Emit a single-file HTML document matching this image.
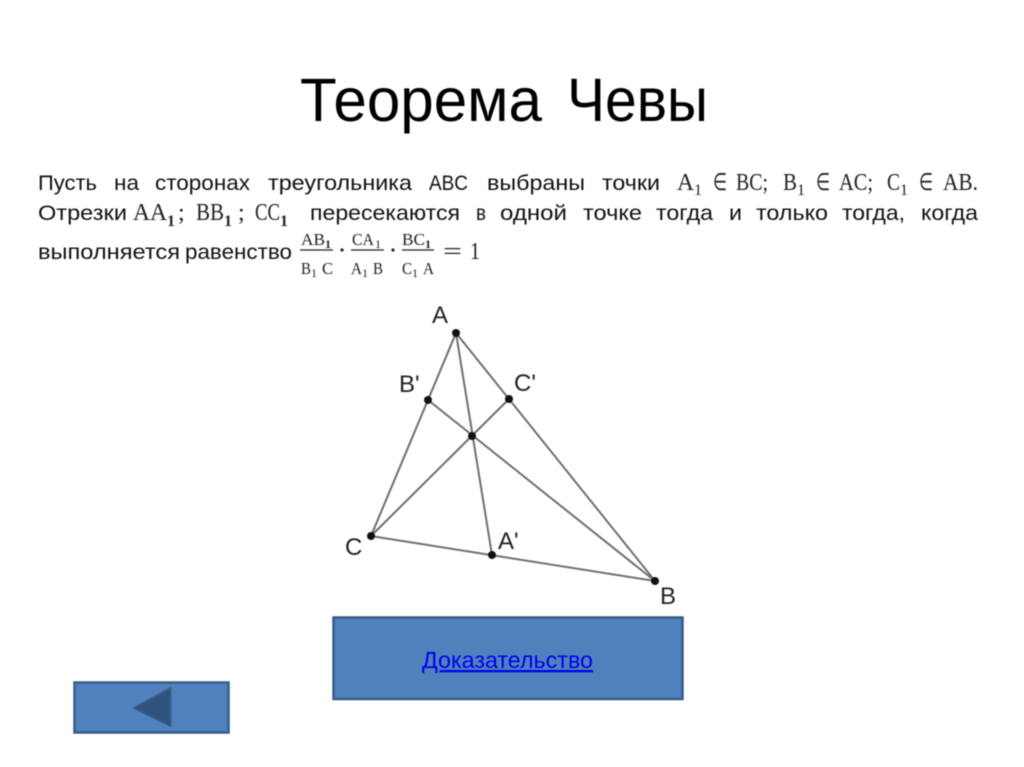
<!DOCTYPE html>
<html lang="ru">
<head>
<meta charset="utf-8">
<title>Теорема Чевы</title>
<style>
html,body{margin:0;padding:0;background:#fff;width:1024px;height:767px;overflow:hidden}
svg{display:block;filter:blur(0.5px)}
.t{font-family:"Liberation Sans",sans-serif;fill:#000}
.b{font-family:"Liberation Sans",sans-serif;font-size:21px;fill:#111}
.m{font-family:"Liberation Serif",serif;font-size:24px;fill:#222}
.s{font-family:"Liberation Serif",serif;font-size:16px;fill:#222}
.f{font-family:"Liberation Serif",serif;font-size:17px;fill:#222}
.l{font-family:"Liberation Sans",sans-serif;font-size:24px;fill:#222}
</style>
</head>
<body>
<svg width="1024" height="767" viewBox="0 0 1024 767" xmlns="http://www.w3.org/2000/svg">
<rect width="1024" height="767" fill="#fff"/>

<g class="t" font-size="61">
<text x="300" y="121" textLength="242" lengthAdjust="spacingAndGlyphs">Теорема</text>
<text x="567" y="121" textLength="141" lengthAdjust="spacingAndGlyphs">Чевы</text>
</g>

<g class="b">
<text x="38" y="190" textLength="59" lengthAdjust="spacingAndGlyphs">Пусть</text>
<text x="114" y="190" textLength="25" lengthAdjust="spacingAndGlyphs">на</text>
<text x="155" y="190" textLength="95" lengthAdjust="spacingAndGlyphs">сторонах</text>
<text x="268" y="190" textLength="144" lengthAdjust="spacingAndGlyphs">треугольника</text>
<text x="429" y="190" textLength="39" lengthAdjust="spacingAndGlyphs">ABC</text>
<text x="487" y="190" textLength="98" lengthAdjust="spacingAndGlyphs">выбраны</text>
<text x="602" y="190" textLength="58" lengthAdjust="spacingAndGlyphs">точки</text>

<text x="38" y="220" textLength="89" lengthAdjust="spacingAndGlyphs">Отрезки</text>
<text x="310" y="220" textLength="150" lengthAdjust="spacingAndGlyphs">пересекаются</text>
<text x="476" y="220" textLength="10" lengthAdjust="spacingAndGlyphs">в</text>
<text x="500" y="220" textLength="67" lengthAdjust="spacingAndGlyphs">одной</text>
<text x="583" y="220" textLength="59" lengthAdjust="spacingAndGlyphs">точке</text>
<text x="656" y="220" textLength="57" lengthAdjust="spacingAndGlyphs">тогда</text>
<text x="729" y="220" textLength="13" lengthAdjust="spacingAndGlyphs">и</text>
<text x="756" y="220" textLength="72" lengthAdjust="spacingAndGlyphs">только</text>
<text x="842" y="220" textLength="63" lengthAdjust="spacingAndGlyphs">тогда,</text>
<text x="921" y="220" textLength="57" lengthAdjust="spacingAndGlyphs">когда</text>

<text x="38" y="259" textLength="142" lengthAdjust="spacingAndGlyphs">выполняется</text>
<text x="185" y="259" textLength="107" lengthAdjust="spacingAndGlyphs">равенство</text>
</g>

<g class="m">
<text x="677" y="190" textLength="17" lengthAdjust="spacingAndGlyphs">A</text>
<text x="713" y="190" textLength="14" lengthAdjust="spacingAndGlyphs">∈</text>
<text x="736" y="190" textLength="32" lengthAdjust="spacingAndGlyphs">BC;</text>
<text x="783" y="190" textLength="14" lengthAdjust="spacingAndGlyphs">B</text>
<text x="816" y="190" textLength="14" lengthAdjust="spacingAndGlyphs">∈</text>
<text x="839" y="190" textLength="34" lengthAdjust="spacingAndGlyphs">AC;</text>
<text x="887" y="190" textLength="13" lengthAdjust="spacingAndGlyphs">C</text>
<text x="919" y="190" textLength="14" lengthAdjust="spacingAndGlyphs">∈</text>
<text x="943" y="190" textLength="35" lengthAdjust="spacingAndGlyphs">AB.</text>
<text x="133" y="220" textLength="34" lengthAdjust="spacingAndGlyphs">AA</text>
<text x="178" y="220">;</text>
<text x="196" y="220" textLength="28" lengthAdjust="spacingAndGlyphs">BB</text>
<text x="238" y="220">;</text>
<text x="255" y="220" textLength="25" lengthAdjust="spacingAndGlyphs">CC</text>
<text x="443" y="259" textLength="19" lengthAdjust="spacingAndGlyphs">=</text>
<text x="470" y="259" textLength="10" lengthAdjust="spacingAndGlyphs">1</text>
</g>
<g class="s">
<text x="694" y="195">1</text>
<text x="797" y="195">1</text>
<text x="900" y="195">1</text>
<text x="167" y="226" font-weight="bold">1</text>
<text x="224" y="226" font-weight="bold">1</text>
<text x="280" y="226" font-weight="bold">1</text>
</g>

<g class="f">
<text x="301" y="245" textLength="24" lengthAdjust="spacingAndGlyphs">AB</text>
<text x="325" y="248" font-size="12" font-weight="bold">1</text>
<text x="301" y="274" textLength="10" lengthAdjust="spacingAndGlyphs">B</text>
<text x="311" y="277" font-size="12">1</text>
<text x="322" y="274" textLength="11" lengthAdjust="spacingAndGlyphs">C</text>
<text x="352" y="245" textLength="22" lengthAdjust="spacingAndGlyphs">CA</text>
<text x="375" y="248" font-size="12">1</text>
<text x="351" y="274" textLength="11" lengthAdjust="spacingAndGlyphs">A</text>
<text x="362" y="277" font-size="12">1</text>
<text x="373" y="274" textLength="10" lengthAdjust="spacingAndGlyphs">B</text>
<text x="402" y="245" textLength="23" lengthAdjust="spacingAndGlyphs">BC</text>
<text x="425" y="248" font-size="12" font-weight="bold">1</text>
<text x="402" y="274" textLength="10" lengthAdjust="spacingAndGlyphs">C</text>
<text x="412" y="277" font-size="12">1</text>
<text x="423" y="274" textLength="11" lengthAdjust="spacingAndGlyphs">A</text>
</g>
<g stroke="#222" stroke-width="1.300">
<line x1="300" y1="250" x2="333" y2="250"/>
<line x1="351" y1="250" x2="384" y2="250"/>
<line x1="402" y1="250" x2="434" y2="250"/>
</g>
<circle cx="342" cy="250" r="1.600" fill="#222"/>
<circle cx="393" cy="250" r="1.600" fill="#222"/>

<g stroke="#6f6f6f" stroke-width="2" fill="none">
<polygon points="456,333 655,581 371,536"/>
<line x1="456" y1="333" x2="492" y2="555"/>
<line x1="655" y1="581" x2="428" y2="400"/>
<line x1="371" y1="536" x2="509" y2="399"/>
</g>
<g fill="#111">
<circle cx="456" cy="333" r="4"/>
<circle cx="428" cy="400" r="4"/>
<circle cx="509" cy="399" r="4"/>
<circle cx="472" cy="436" r="4"/>
<circle cx="371" cy="536" r="4"/>
<circle cx="492" cy="555" r="4"/>
<circle cx="655" cy="581" r="4"/>
</g>
<g class="l">
<text x="432" y="323">A</text>
<text x="399" y="392">B'</text>
<text x="514" y="391">C'</text>
<text x="345" y="555">C</text>
<text x="498" y="549">A'</text>
<text x="660" y="604">B</text>
</g>

<rect x="333.500" y="617.500" width="349" height="81.500" fill="#4f81bd" stroke="#385d8a" stroke-width="2.500"/>
<text x="422" y="668" textLength="171" lengthAdjust="spacingAndGlyphs" font-family="Liberation Sans, sans-serif" font-size="23" fill="#0000ee" text-decoration="underline">Доказательство</text>

<rect x="74.500" y="682.500" width="154" height="50" fill="#4f81bd" stroke="#385d8a" stroke-width="2.500"/>
<polygon points="134,708 170.500,688 170.500,726" fill="#30527f" stroke="#385d8a" stroke-width="2" stroke-linejoin="round"/>
</svg>
</body>
</html>
